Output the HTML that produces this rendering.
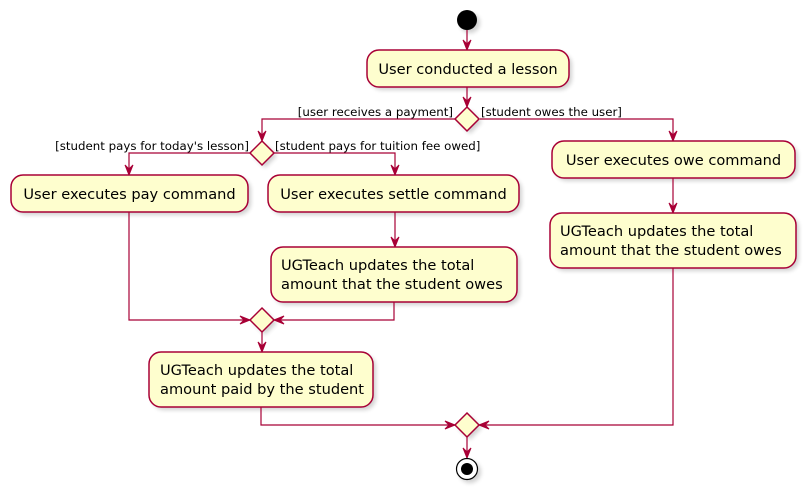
<!DOCTYPE html>
<html><head><meta charset="utf-8"><style>
html,body{margin:0;padding:0;background:#fff;}
svg{display:block;}
text{font-family:"DejaVu Sans","Liberation Sans",sans-serif;fill:#000;}
.b{fill:#FEFECE;stroke:#A80036;stroke-width:1.5;}
.s{fill:#000;opacity:0.18;}
.l{stroke:#A80036;stroke-width:1.2;fill:none;}
.a{fill:#A80036;stroke:#A80036;stroke-width:1;}
.t{font-size:14.6px;}
.g{font-size:11.8px;}
</style></head><body>
<svg width="812" height="495" viewBox="0 0 812 495" xmlns="http://www.w3.org/2000/svg">
<defs><filter id="f" x="-10%" y="-10%" width="130%" height="140%"><feGaussianBlur stdDeviation="2"/></filter></defs>
<circle cx="470" cy="23" r="10" class="s" filter="url(#f)"/>
<circle cx="467" cy="20" r="10" fill="#000"/>
<g class="s" filter="url(#f)">
<rect x="370" y="53" width="202" height="37" rx="12"/>
<rect x="14" y="178" width="237" height="37" rx="12"/>
<rect x="271" y="178" width="251" height="37" rx="12"/>
<rect x="555" y="144" width="243" height="37" rx="12"/>
<rect x="553" y="216" width="246" height="55" rx="12"/>
<rect x="274" y="250" width="246" height="55" rx="12"/>
<rect x="152" y="355" width="224" height="55" rx="12"/>
<polygon points="470,110 482,122 470,134 458,122"/>
<polygon points="265,144 277,156 265,168 253,156"/>
<polygon points="265,311 277,323 265,335 253,323"/>
<polygon points="470,416 482,428 470,440 458,428"/>
<circle cx="470" cy="472" r="11"/>
</g>
<path class="l" d="M467 30 V50 M467 87 V107 M456 119 H262 V141 M480 119 H673 V141 M250 153 H129 V175 M274 153 H395 V175 M395 212 V247 M129 212 V320 H250 M394 302 V320 H274 M262 332 V352 M673 178 V213 M261 407 V425 H455 M673 268 V425 H479 M467 437 V458"/>
<g class="a">
<polygon points="463,40 467,50 471,40 467,44"/>
<polygon points="463,97 467,107 471,97 467,101"/>
<polygon points="258,131 262,141 266,131 262,135"/>
<polygon points="669,131 673,141 677,131 673,135"/>
<polygon points="125,165 129,175 133,165 129,169"/>
<polygon points="391,165 395,175 399,165 395,169"/>
<polygon points="391,237 395,247 399,237 395,241"/>
<polygon points="669,203 673,213 677,203 673,207"/>
<polygon points="240,316 250,320 240,324 244,320"/>
<polygon points="284,316 274,320 284,324 280,320"/>
<polygon points="258,342 262,352 266,342 262,346"/>
<polygon points="445,421 455,425 445,429 449,425"/>
<polygon points="489,421 479,425 489,429 485,425"/>
<polygon points="463,448 467,458 471,448 467,452"/>
</g>
<rect class="b" x="367" y="50" width="202" height="37" rx="12"/>
<rect class="b" x="11" y="175" width="237" height="37" rx="12"/>
<rect class="b" x="268" y="175" width="251" height="37" rx="12"/>
<rect class="b" x="552" y="141" width="243" height="37" rx="12"/>
<rect class="b" x="550" y="213" width="246" height="55" rx="12"/>
<rect class="b" x="271" y="247" width="246" height="55" rx="12"/>
<rect class="b" x="149" y="352" width="224" height="55" rx="12"/>
<polygon class="b" points="467,107 479,119 467,131 455,119"/>
<polygon class="b" points="262,141 274,153 262,165 250,153"/>
<polygon class="b" points="262,308 274,320 262,332 250,320"/>
<polygon class="b" points="467,413 479,425 467,437 455,425"/>
<circle cx="467" cy="469" r="10.5" fill="#fff" stroke="#000" stroke-width="1.2"/>
<circle cx="467" cy="469" r="6" fill="#000"/>
<text class="t" x="468" y="74" text-anchor="middle">User conducted a lesson</text>
<text class="t" x="129.5" y="199" text-anchor="middle">User executes pay command</text>
<text class="t" x="393.5" y="199" text-anchor="middle">User executes settle command</text>
<text class="t" x="673.5" y="165" text-anchor="middle">User executes owe command</text>
<text class="t" x="560" y="236">UGTeach updates the total</text>
<text class="t" x="560" y="255">amount that the student owes</text>
<text class="t" x="281" y="270">UGTeach updates the total</text>
<text class="t" x="281" y="289">amount that the student owes</text>
<text class="t" x="160" y="375">UGTeach updates the total</text>
<text class="t" x="160" y="394">amount paid by the student</text>
<text class="g" x="453" y="116" text-anchor="end">[user receives a payment]</text>
<text class="g" x="481" y="116">[student owes the user]</text>
<text class="g" x="249" y="150" text-anchor="end">[student pays for today's lesson]</text>
<text class="g" x="275" y="150">[student pays for tuition fee owed]</text>
</svg>
</body></html>
